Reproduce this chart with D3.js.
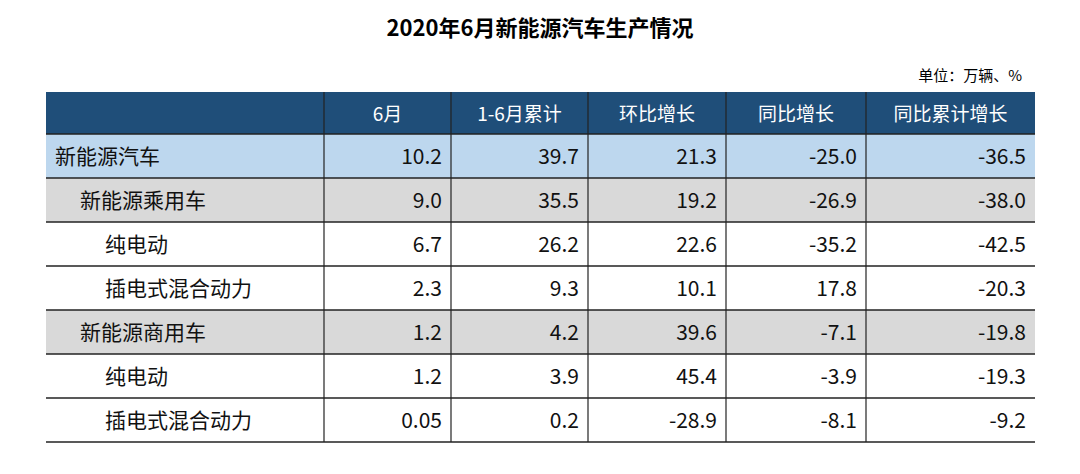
<!DOCTYPE html>
<html><head><meta charset="utf-8">
<script src="https://cdn.jsdelivr.net/npm/d3@7"></script>
<style>body{margin:0;background:#fff}text{font-family:"Noto Sans CJK SC",sans-serif}</style>
</head><body><svg></svg>
<script>
const headers = ['', '6月', '1-6月累计', '环比增长', '同比增长', '同比累计增长'];
const categories = ['新能源汽车', '新能源乘用车', '纯电动', '插电式混合动力', '新能源商用车', '纯电动', '插电式混合动力'];
const levels = [0, 1, 2, 2, 1, 2, 2];
const june = ['10.2', '9.0', '6.7', '2.3', '1.2', '1.2', '0.05'];
const cumulative = ['39.7', '35.5', '26.2', '9.3', '4.2', '3.9', '0.2'];
const momGrowth = ['21.3', '19.2', '22.6', '10.1', '39.6', '45.4', '-28.9'];
const yoyGrowth = ['-25.0', '-26.9', '-35.2', '17.8', '-7.1', '-3.9', '-8.1'];
const yoyCumGrowth = ['-36.5', '-38.0', '-42.5', '-20.3', '-19.8', '-19.3', '-9.2'];

const size = {w: 1080, h: 474};
const svg = d3.select('svg').attr('width', size.w).attr('height', size.h);

const colEdges = [46, 324, 451, 588, 726, 866, 1035];
const rowTop = 92, headH = 42, rowH = 44;
const y = i => rowTop + headH + i * rowH;
const fills = ['#BDD7EE', '#D9D9D9', '#fff', '#fff', '#D9D9D9', '#fff', '#fff'];

svg.append('text').attr('x', 540).attr('y', 36).attr('text-anchor', 'middle')
    .attr('font-size', 22).attr('font-weight', 'bold').text('2020年6月新能源汽车生产情况');
svg.append('text').attr('x', 1022).attr('y', 81).attr('text-anchor', 'end')
    .attr('font-size', 15).text('单位：万辆、%');

// header
svg.append('rect').attr('x', colEdges[0]).attr('y', rowTop).attr('width', colEdges[6] - colEdges[0])
    .attr('height', headH).attr('fill', '#1F4E79');
headers.forEach((h, j) => {
    if (!h) return;
    svg.append('text').attr('x', (colEdges[j] + colEdges[j + 1]) / 2).attr('y', rowTop + 29)
        .attr('text-anchor', 'middle').attr('fill', '#fff').attr('font-size', 19).text(h);
});

// body rows
const cols = [june, cumulative, momGrowth, yoyGrowth, yoyCumGrowth];
const rows = svg.selectAll('g.row').data(categories).enter().append('g').classed('row', true);
rows.append('rect').attr('x', colEdges[0]).attr('y', (d, i) => y(i))
    .attr('width', colEdges[6] - colEdges[0]).attr('height', rowH).attr('fill', (d, i) => fills[i]);
rows.append('text').attr('x', (d, i) => 55 + levels[i] * 25).attr('y', (d, i) => y(i) + 30)
    .attr('font-size', 21).attr('fill', '#111').text(d => d);
cols.forEach((c, j) => {
    rows.append('text').attr('x', colEdges[j + 2] - 9).attr('y', (d, i) => y(i) + 30)
        .attr('text-anchor', 'end').attr('font-size', 21).attr('fill', '#111').text((d, i) => c[i]);
});

// lines
const bottom = y(categories.length);
d3.range(categories.length + 1).forEach(i => {
    svg.append('line').attr('x1', colEdges[0]).attr('x2', colEdges[6]).attr('y1', y(i)).attr('y2', y(i))
        .attr('stroke', '#222').attr('stroke-width', 1.5);
});
colEdges.slice(1, 6).forEach(x => {
    svg.append('line').attr('x1', x).attr('x2', x).attr('y1', rowTop).attr('y2', bottom)
        .attr('stroke', '#222').attr('stroke-width', 1.2);
});
</script></body></html>
